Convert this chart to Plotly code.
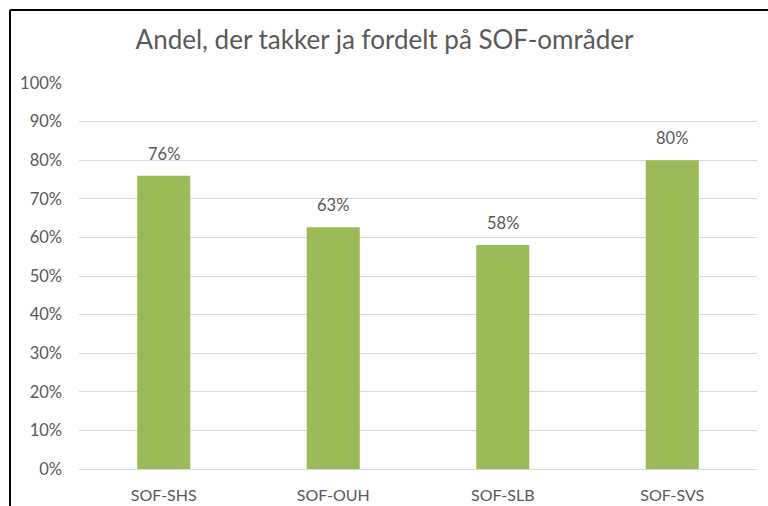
import plotly.graph_objects as go

categories = ["SOF-SHS", "SOF-OUH", "SOF-SLB", "SOF-SVS"]
values = [0.76, 0.626, 0.58, 0.80]
tick_vals = [0, 0.1, 0.2, 0.3, 0.4, 0.5, 0.6, 0.7, 0.8, 0.9, 1.0]
tick_text = ["0%", "10%", "20%", "30%", "40%", "50%", "60%", "70%", "80%", "90%", "100%"]
title = "Andel, der takker ja fordelt på SOF-områder"

W, H = 768, 506
ML, MR, MT, MB = 79, 11, 83, 37
pw, ph = W - ML - MR, H - MT - MB

font_fam = "Lato, 'Open Sans', sans-serif"
gray = "#595959"

fig = go.Figure(go.Bar(
    x=categories, y=values,
    marker=dict(color="#9BBB59", line=dict(width=0)),
    hoverinfo="skip",
))

for c, v in zip(categories, values):
    fig.add_annotation(x=c, y=v, text=f"{round(v*100)}%", showarrow=False,
                       yanchor="bottom", yshift=10,
                       font=dict(family=font_fam, size=16.5, color=gray))

# border lines (decoration, in paper coords)
bx = (10 - ML) / pw
by = 1 + (MT - 10) / ph
fig.add_shape(type="line", xref="paper", yref="paper", x0=bx, x1=bx, y0=by, y1=-0.2,
              line=dict(color="black", width=2))
fig.add_shape(type="line", xref="paper", yref="paper", x0=bx, x1=1.1, y0=by, y1=by,
              line=dict(color="black", width=2))

fig.update_layout(
    width=W, height=H,
    margin=dict(l=ML, r=MR, t=MT, b=MB),
    paper_bgcolor="white", plot_bgcolor="white",
    title=dict(text=title, x=(137 + 632) / 2 / W, xanchor="center", y=1 - 40 / H, yanchor="middle",
               font=dict(family=font_fam, size=26, color=gray)),
    bargap=0.687,
    showlegend=False,
    font=dict(family=font_fam, color=gray),
)
fig.update_yaxes(range=[0, 1.0], tickvals=tick_vals, ticktext=tick_text,
                 showgrid=True, gridcolor="#d9d9d9", gridwidth=1,
                 zeroline=True, zerolinecolor="#d9d9d9", zerolinewidth=1,
                 showline=False, ticks="", ticklabelstandoff=16, automargin=False,
                 tickfont=dict(family=font_fam, size=16.5, color=gray))
fig.update_xaxes(showline=False, ticks="", ticklabelstandoff=15, automargin=False,
                 tickfont=dict(family=font_fam, size=16, color=gray))

fig.write_html("out.html",
               config={"displayModeBar": False, "staticPlot": True},
               post_script=("document.body.style.margin='0';"
                            "document.body.style.overflow='hidden';"
                            "document.documentElement.style.overflow='hidden';"))
